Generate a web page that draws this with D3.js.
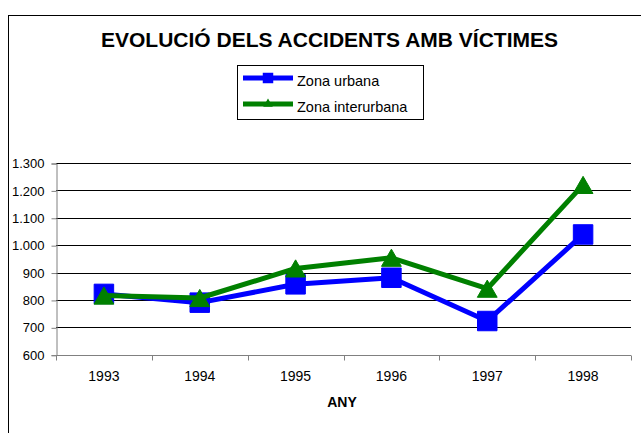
<!DOCTYPE html>
<html>
<head>
<meta charset="utf-8">
<script src="https://cdn.jsdelivr.net/npm/d3@7"></script>
<style>
  html, body { margin: 0; padding: 0; background: #fff; }
  svg { display: block; font-family: "Liberation Sans", Arial, sans-serif; }
</style>
</head>
<body>
<div id="chart"></div>
<script>
// data
const years = ["1993", "1994", "1995", "1996", "1997", "1998"];
const urbana = [822, 790, 857, 881, 723, 1039];
const interurbana = [816, 807, 915, 954, 841, 1220];
const yTicks = [600, 700, 800, 900, 1000, 1100, 1200, 1300];

const width = 641, height = 433;

const svg = d3.select('#chart').append('svg')
    .attr('width', width)
    .attr('height', height);

// outer chart frame (runs off the right/bottom edge)
svg.append('rect')
    .attr('x', 8.5).attr('y', 15.5)
    .attr('width', width + 10).attr('height', height + 10)
    .attr('fill', 'none').attr('stroke', '#000').attr('stroke-width', 1);

svg.append('text')
    .attr('x', 101).attr('y', 47)
    .attr('textLength', 457).attr('lengthAdjust', 'spacingAndGlyphs')
    .style('font-size', '20px').style('font-weight', 'bold')
    .text('EVOLUCIÓ DELS ACCIDENTS AMB VÍCTIMES');

const x = d3.scaleBand().domain(years).range([56, 631]);
const y = d3.scaleLinear().domain([600, 1300]).range([354.7, 163]);

// gridlines
svg.append('g')
    .selectAll('line')
    .data(yTicks.filter(d => d > 600))
    .join('line')
    .attr('x1', 56).attr('x2', 631)
    .attr('y1', d => Math.round(y(d)) + 0.5).attr('y2', d => Math.round(y(d)) + 0.5)
    .attr('stroke', '#000');

// y axis
const yAxis = svg.append('g')
    .attr('transform', 'translate(56.5,0.5)')
    .call(d3.axisLeft(y).tickValues(yTicks).tickSize(5).tickPadding(7)
        .tickFormat(d => d3.format(',')(d).replace(/,/g, '.')));
yAxis.select('.domain').attr('stroke', '#808080');
yAxis.selectAll('.tick line').attr('stroke', '#808080');
yAxis.selectAll('text').style('font-size', '13px').attr('fill', '#000').attr('font-family', null);

// x axis, ticks between categories
const xAxis = svg.append('g')
    .attr('transform', `translate(0,${Math.round(y(600)) + 0.5})`)
    .call(d3.axisBottom(x).tickSize(0).tickPadding(16));
xAxis.select('.domain').attr('stroke', '#808080').attr('d', 'M56.5,0H631');
xAxis.selectAll('text').style('font-size', '14px').attr('fill', '#000').attr('font-family', null);
xAxis.selectAll('line.sep')
    .data(years.concat(['end']))
    .join('line')
    .attr('class', 'sep')
    .attr('x1', (d, i) => Math.round(56 + i * x.bandwidth()) + 0.5)
    .attr('x2', (d, i) => Math.round(56 + i * x.bandwidth()) + 0.5)
    .attr('y1', 0).attr('y2', 5)
    .attr('stroke', '#808080');

svg.append('text')
    .attr('x', 342).attr('y', 407)
    .attr('text-anchor', 'middle')
    .style('font-size', '14px').style('font-weight', 'bold')
    .text('ANY');

const cx = d => x(d) + x.bandwidth() / 2;
const line = d3.line().x(d => cx(d.year)).y(d => y(d.value));

const series = [
    {name: 'Zona urbana', values: urbana, color: '#0000ff', marker: 'square'},
    {name: 'Zona interurbana', values: interurbana, color: '#008000', marker: 'triangle'}
];

const sq = d3.symbol().type(d3.symbolSquare).size(380);
const triSize = 170;
const tri = d3.symbol().type(d3.symbolTriangle).size(triSize);
// shift triangle so its bounding box (not centroid) sits on the point
const triShift = Math.sqrt(triSize / (3 * Math.sqrt(3))) / 2;

series.forEach(s => {
    const pts = years.map((yr, i) => ({year: yr, value: s.values[i]}));
    svg.append('path')
        .attr('d', line(pts))
        .attr('fill', 'none')
        .attr('stroke', s.color)
        .attr('stroke-width', 5)
        .attr('stroke-linejoin', 'round');
    svg.append('g').selectAll('path')
        .data(pts)
        .join('path')
        .attr('d', s.marker === 'square' ? sq : tri)
        .attr('transform', d => `translate(${cx(d.year)},${y(d.value) + (s.marker === 'triangle' ? triShift : 0)})`)
        .attr('fill', s.color)
        .attr('stroke', s.color)
        .attr('stroke-width', 1)
        .attr('stroke-linejoin', 'round');
});

// legend
const legend = svg.append('g');
legend.append('rect')
    .attr('x', 237.5).attr('y', 65.5).attr('width', 186).attr('height', 54)
    .attr('fill', '#fff').attr('stroke', '#000');
series.forEach((s, i) => {
    const ly = 78 + i * 26;
    legend.append('line')
        .attr('x1', 243).attr('x2', 293).attr('y1', ly).attr('y2', ly)
        .attr('stroke', s.color).attr('stroke-width', 5);
    legend.append('path')
        .attr('d', s.marker === 'square' ? d3.symbol().type(d3.symbolSquare).size(110)()
                                         : d3.symbol().type(d3.symbolTriangle).size(40)())
        .attr('transform', `translate(268,${ly})`)
        .attr('fill', s.color);
    legend.append('text')
        .attr('x', 297).attr('y', ly + 8)
        .style('font-size', '14.5px')
        .text(s.name);
});
</script>
</body>
</html>
